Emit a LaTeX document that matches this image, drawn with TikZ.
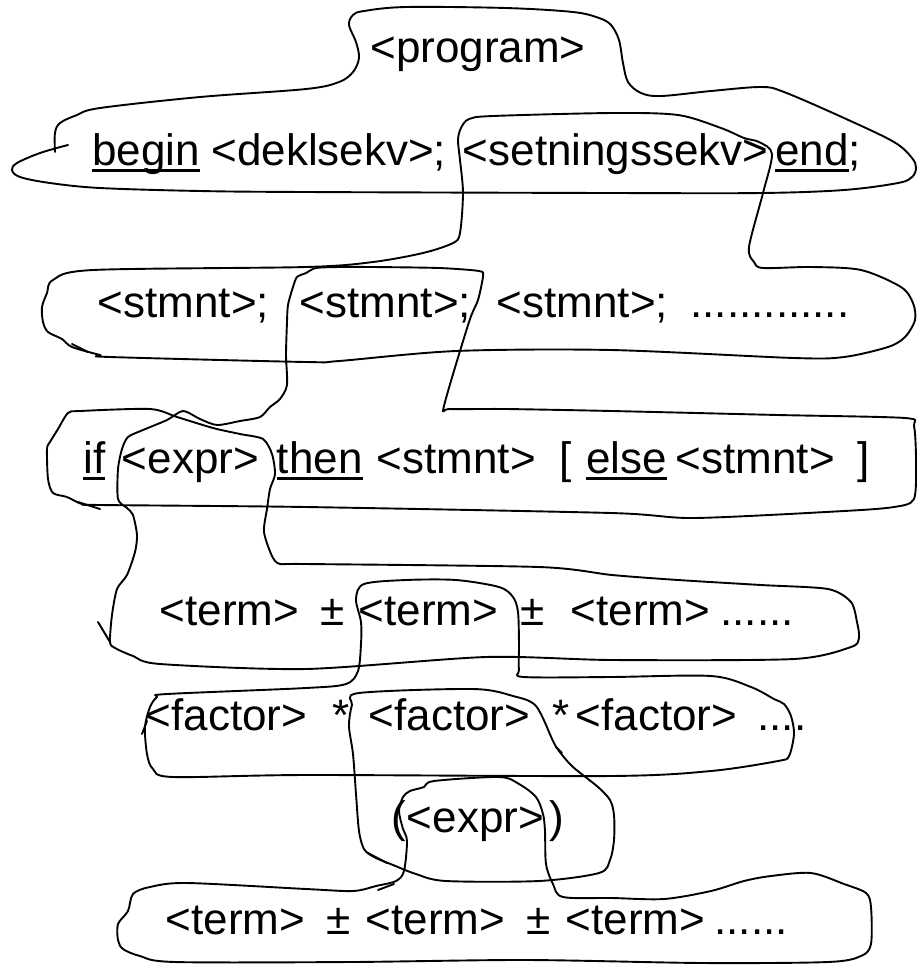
\documentclass[tikz,border=0pt]{standalone}
\usepackage{fontspec}
\setmainfont{Liberation Sans}
\newsavebox\kwbox
% keyword with a thick underline that crosses the descenders
\newcommand\kw[1]{\sbox\kwbox{#1}\rlap{\rule[-3.4pt]{\wd\kwbox}{1.6pt}}\usebox\kwbox}
\tikzset{
  lbl/.style={anchor=base west, inner sep=0pt, font=\fontsize{22}{26}\selectfont},
  pen/.style={line width=0.95pt, line join=round, line cap=round},
}
\begin{document}
\begin{tikzpicture}[x=0.5pt, y=-0.5pt]
\useasboundingbox (0,0) rectangle (917,966);

% ---- text rows ----
\node[lbl] (prog) at (370,62) {<program>};

\node[lbl] (begin) at (92,165) {\kw{begin}};
\node[lbl] (dekl) at (211,165) {<deklsekv>;};
\node[lbl] (setn) at (462.5,165) {<setningssekv>};
\node[lbl] (end) at (775,165) {\kw{end};};

\node[lbl] (st1) at (97.5,317) {<stmnt>;};
\node[lbl] (st2) at (299.5,317) {<stmnt>;};
\node[lbl] (st3) at (496.5,317) {<stmnt>;};
\node[lbl] (stdots) at (690,317) {.............};

\node[lbl] (if) at (83,473) {\kw{if}};
\node[lbl] (ifexpr) at (121.5,473) {<expr>};
\node[lbl] (then) at (276.5,473) {\kw{then}};
\node[lbl] (thenst) at (376.5,473) {<stmnt>};
\node[lbl] (lbr) at (559.5,473) {[};
\node[lbl] (else) at (586,473) {\kw{else}};
\node[lbl] (elsest) at (675.5,473) {<stmnt>};
\node[lbl] (rbr) at (857,473) {]};

\node[lbl] (ta1) at (159.5,625) {<term>};
\node[lbl] (pa1) at (320.5,625) {±};
\node[lbl] (ta2) at (358.5,625) {<term>};
\node[lbl] (pa2) at (520.5,625) {±};
\node[lbl] (ta3) at (570.5,625) {<term>};
\node[lbl] (tadots) at (720,625) {......};

\node[lbl] (f1) at (145.5,730) {<factor>};
\node[lbl] (m1) at (332,730) {*};
\node[lbl] (f2) at (368.5,730) {<factor>};
\node[lbl] (m2) at (552,730) {*};
\node[lbl] (f3) at (575.5,730) {<factor>};
\node[lbl] (fdots) at (757,730) {....};

\node[lbl] (lpar) at (391.5,832) {(};
\node[lbl] (pexpr) at (406.5,832) {<expr>};
\node[lbl] (rpar) at (549,832) {)};

\node[lbl] (tb1) at (165.5,934) {<term>};
\node[lbl] (pb1) at (326.5,934) {±};
\node[lbl] (tb2) at (365.5,934) {<term>};
\node[lbl] (pb2) at (526.5,934) {±};
\node[lbl] (tb3) at (565.5,934) {<term>};
\node[lbl] (tbdots) at (714,934) {......};

% ---- hand-drawn loops ----
% <program> and the begin ... end; row
\draw[pen] plot[smooth, tension=0.55] coordinates {
 (68,145) (40,153) (17,163) (12,170) (20,177) (50,183) (100,188) (200,191)
 (306,192) (611,193) (761,193) (844,190) (898,183) (912,177) (916,168) (912,158)
 (894,142) (844,118) (784,92) (761,87) (711,91) (661,96) (641,93) (628,82)
 (623,63) (619,40) (611,25) (599,18) (573,12) (506,8) (406,7) (364,11) (353,15)
 (349,25) (356,42) (359,58) (353,72) (339,82) (306,89) (200,97) (100,108)
 (77,115) (60,123) (55,133) (55,152)};

% <setningssekv> expanded into the statement row
\draw[pen] plot[smooth cycle, tension=0.5] coordinates {
 (461,128) (469,119) (493,116) (612,113) (678,115) (721,128) (744,138) (759,142)
 (772,154) (763,193) (749,247) (754,262) (763,268) (811,267) (861,270) (901,287)
 (913,303) (915,320) (905,337) (888,347) (844,357) (794,358) (611,350) (456,351)
 (339,361) (306,362) (110,357) (100,355) (72,347) (62,339) (48,332) (43,322)
 (42,307) (47,293) (53,280) (93,270) (306,267) (373,262) (423,253) (453,243)
 (460,233) (463,193) (460,160) (458,140)};
\draw[pen] (72,344) -- (88,352);

% second <stmnt> -> if row -> <expr> -> term row
\draw[pen] plot[smooth cycle, tension=0.45] coordinates {
 (293,287) (297,277) (306,273) (316,268) (339,267) (373,267) (439,268) (479,271)
 (483,276) (478,300) (469,322) (444,406) (450,409) (506,409) (612,411) (778,415)
 (905,418) (914,426) (916,460) (914,499) (894,507) (844,511) (694,518) (611,513)
 (306,507) (100,505) (82,504) (67,497) (53,493) (48,479) (47,449) (50,442)
 (58,429) (68,413) (80,411) (150,409) (177,417) (213,428) (240,434) (263,439)
 (272,454) (275,474) (270,489) (267,509) (264,532) (272,556) (280,564) (306,564)
 (539,567) (612,575) (678,580) (761,585) (828,589) (851,602) (857,622) (859,638)
 (851,647) (794,659) (612,660) (486,657) (306,669) (160,664) (133,656) (115,648)
 (110,642) (112,615) (117,589) (127,575) (135,552) (137,535) (133,515) (127,508)
 (118,499) (118,469) (122,449) (128,437) (143,430) (167,420) (183,411) (200,419)
 (217,425) (240,421) (260,417) (270,407) (280,399) (287,385) (286,355) (287,322)
 (288,305)};
\draw[pen] (98,622) -- (110,642);
\draw[pen] (78,502) -- (100,509);

% second <term> -> factor row
\draw[pen] plot[smooth cycle, tension=0.5] coordinates {
 (356,599) (364,584) (406,580) (456,580) (499,587) (513,597) (518,612) (519,644)
 (519,670) (524,677) (611,677) (711,676) (751,687) (774,699) (784,704) (791,716)
 (794,734) (789,756) (778,761) (711,771) (611,776) (306,775) (173,777) (153,769)
 (147,754) (145,727) (150,707) (157,697) (167,694) (306,688) (346,684) (358,671)
 (361,644) (361,622)};
\draw[pen] (142,734) -- (147,721);

% second <factor> -> ( <expr> )
\draw[pen] plot[smooth cycle, tension=0.5] coordinates {
 (359,693) (473,689) (513,696) (536,706) (553,741) (559,751) (573,767) (598,787)
 (610,800) (614,815) (614,840) (610,860) (599,873) (539,881) (446,881) (416,874)
 (393,865) (374,857) (364,849) (359,831) (356,794) (353,754) (349,726) (352,705)};
\draw[pen] (368,853) -- (387,863);
\draw[pen] (556,747) -- (562,753);

% <expr> -> last term row
\draw[pen] plot[smooth cycle, tension=0.5] coordinates {
 (403,797) (410,791) (424,787) (434,781) (499,777) (519,784) (536,797) (543,814)
 (545,831) (546,864) (553,884) (563,897) (612,898) (664,899) (711,891) (744,881)
 (771,876) (811,873) (844,884) (866,893) (871,907) (871,944) (861,956) (828,962)
 (702,963) (526,960) (351,962) (175,962) (140,956) (123,949) (118,940) (118,924)
 (128,911) (133,894) (150,887) (187,883) (306,889) (353,891) (376,886) (396,881)
 (404,871) (407,841) (403,829) (399,811)};
\draw[pen] (378,890) -- (394,884);
\end{tikzpicture}
\end{document}
